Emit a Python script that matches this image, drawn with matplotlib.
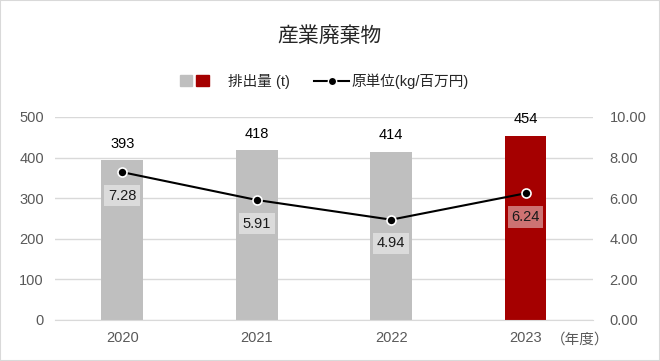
import matplotlib
matplotlib.use("Agg")
import matplotlib.pyplot as plt
from matplotlib.patches import Patch, Rectangle
from matplotlib.lines import Line2D
from matplotlib.legend_handler import HandlerTuple

plt.rcParams["font.family"] = ["Liberation Sans", "Noto Sans CJK JP", "DejaVu Sans"]

# ── data ───────────────────────────────────────────────────────────────────────
years = ["2020", "2021", "2022", "2023"]
emissions = [393, 418, 414, 454]          # 排出量 (t)
intensity = [7.28, 5.91, 4.94, 6.24]      # 原単位 (kg/百万円)

GRAY = "#bfbfbf"
RED = "#a50000"
bar_colors = [GRAY, GRAY, GRAY, RED]

# ── figure ─────────────────────────────────────────────────────────────────────
fig = plt.figure(figsize=(6.6, 3.61), dpi=100)
fig.patches.append(Rectangle((0, 0), 1, 1, transform=fig.transFigure,
                             fill=False, edgecolor="#d9d9d9", lw=1.5))
ax = fig.add_axes([0.0833, 0.1136, 0.815, 0.5625])
ax2 = ax.twinx()

x = range(len(years))
ax.bar(x, emissions, width=0.31, color=bar_colors, zorder=2)
for xi, v in zip(x, emissions):
    ax.annotate(f"{v}", (xi, v), xytext=(0, 7), textcoords="offset points",
                ha="center", va="bottom", fontsize=10.5, color="#000000")

ax.set_ylim(0, 500)
ax.set_yticks(range(0, 501, 100))
ax.set_xlim(-0.5, 3.5)
ax.set_xticks(list(x))
ax.set_xticklabels(years)
ax.grid(axis="y", color="#d9d9d9", lw=1.0, zorder=0)
ax.set_axisbelow(True)
for s in ax.spines.values():
    s.set_visible(False)
ax.spines["bottom"].set_visible(True)
ax.spines["bottom"].set_color("#d9d9d9")
ax.tick_params(length=0, labelsize=10.5, labelcolor="#595959", pad=8)

ax2.plot(list(x), intensity, color="black", lw=1.5, marker="o",
         markersize=6.5, markerfacecolor="black", markeredgecolor="white",
         markeredgewidth=1.2, zorder=5)
for xi, v in zip(x, intensity):
    ax2.annotate(f"{v:.2f}", (xi, v), xytext=(0, -17), textcoords="offset points",
                 ha="center", va="center", fontsize=10.5, color="#1a1a1a",
                 bbox=dict(boxstyle="square,pad=0.25", facecolor="white",
                           edgecolor="none", alpha=0.45))
ax2.set_ylim(0, 10)
ax2.set_yticks(range(0, 11, 2))
ax2.set_yticklabels([f"{t:.2f}" for t in range(0, 11, 2)])
for s in ax2.spines.values():
    s.set_visible(False)
ax2.tick_params(length=0, labelsize=10.5, labelcolor="#595959", pad=12)

fig.text(0.835, 0.06, "（年度）", fontsize=10.5, color="#595959",
         ha="left", va="center")

fig.text(0.5, 0.9, "産業廃棄物", fontsize=15, color="#262626",
         ha="center", va="center")

# ── legend ─────────────────────────────────────────────────────────────────────
bars_handle = (Patch(color=GRAY), Patch(color=RED))
line_handle = Line2D([], [], color="black", lw=1.5, marker="o", markersize=6,
                     markerfacecolor="black", markeredgecolor="white")
leg1 = fig.legend([bars_handle], ["排出量 (t)"],
                  handler_map={tuple: HandlerTuple(ndivide=None, pad=0.3)},
                  loc="center left", bbox_to_anchor=(0.272, 0.775), frameon=False,
                  fontsize=10.5, handlelength=2.0, handleheight=0.85,
                  handletextpad=1.3, borderpad=0, borderaxespad=0,
                  labelcolor="#262626")
fig.legend([line_handle], ["原単位(kg/百万円)"],
           loc="center left", bbox_to_anchor=(0.476, 0.775), frameon=False,
           fontsize=10.5, handlelength=2.4, handletextpad=0.15,
           borderpad=0, borderaxespad=0, labelcolor="#262626")

fig.savefig("out.png", dpi=100)
